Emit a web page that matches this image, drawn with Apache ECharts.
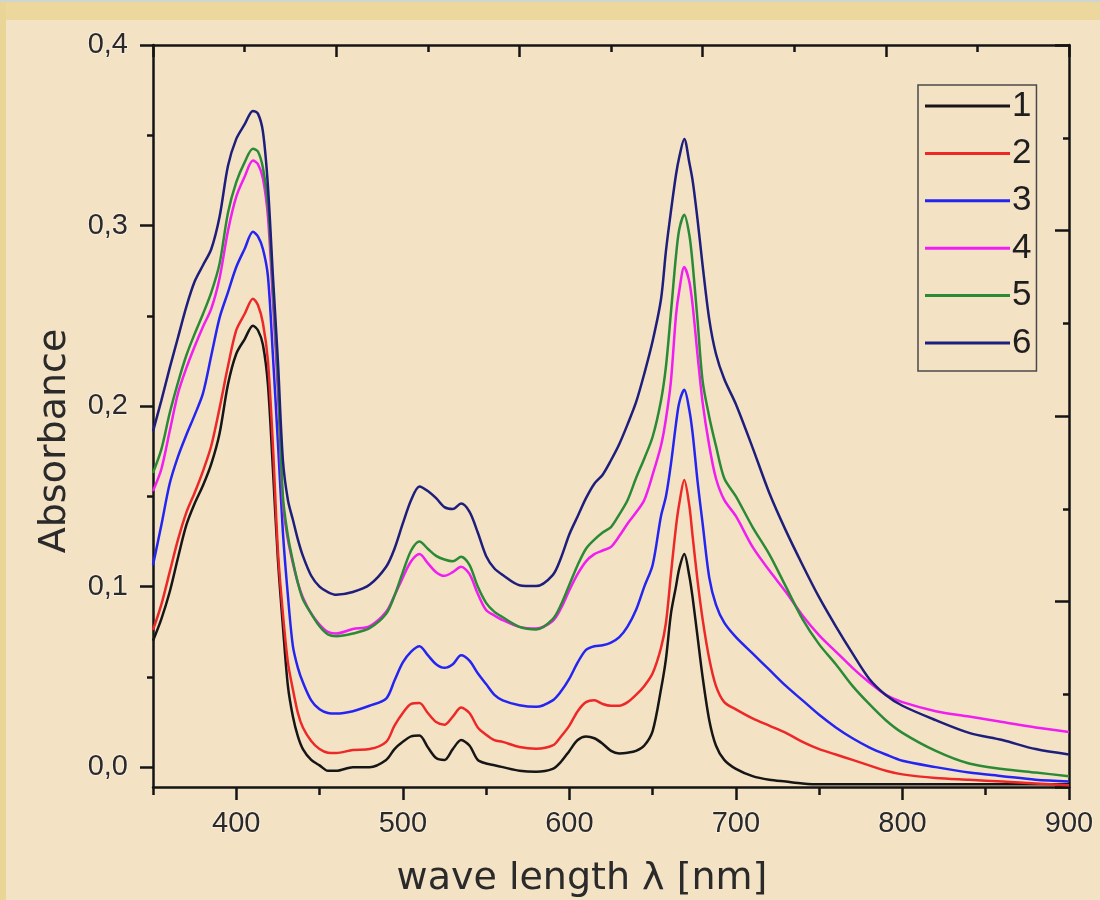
<!DOCTYPE html>
<html>
<head>
<meta charset="utf-8">
<title>Absorbance</title>
<style>
  * { margin: 0; padding: 0; }
  body { background: #f4e2c5; }
  #chart { width: 1100px; height: 900px; }
</style>
</head>
<body>
<div id="chart"></div>
<script src="https://cdn.jsdelivr.net/npm/echarts@6/dist/echarts.min.js"></script>
<script>
// wavelength samples (nm)
var wl = [350,355,360,365,370,375,380,385,390,395,
          400,405,410,413,416,419,422,425,428,431,
          434,437,440,445,450,455,460,470,480,490,
          495,500,505,510,515,520,525,530,535,540,
          545,550,555,560,570,580,590,595,600,605,
          610,615,620,625,630,635,640,645,650,655,
          658,661,664,666,669,672,674,677,680,684,
          688,693,700,710,720,730,740,750,760,770,
          780,790,800,820,840,860,880,900];

var s1 = [0.070,0.082,0.097,0.116,0.134,0.146,0.156,0.168,0.185,0.212,
          0.229,0.237,0.2445,0.242,0.234,0.212,0.165,0.115,0.078,0.045,
          0.028,0.017,0.010,0.004,0.001,-0.002,-0.002,0.000,0.000,0.004,
          0.010,0.014,0.017,0.0175,0.011,0.005,0.004,0.010,0.015,0.012,
          0.004,0.002,0.001,0.000,-0.002,-0.0026,-0.001,0.003,0.009,0.015,
          0.017,0.016,0.013,0.009,0.0076,0.008,0.009,0.012,0.020,0.043,
          0.060,0.085,0.100,0.110,0.118,0.106,0.094,0.072,0.050,0.026,
          0.012,0.004,-0.001,-0.005,-0.007,-0.008,-0.009,-0.0095,-0.0095,-0.0095,
          -0.0095,-0.0095,-0.0095,-0.0095,-0.0095,-0.0095,-0.0095,-0.0095];

var s2 = [0.076,0.090,0.108,0.126,0.141,0.152,0.164,0.178,0.199,0.222,
          0.242,0.251,0.2595,0.256,0.246,0.225,0.178,0.120,0.085,0.058,
          0.043,0.030,0.022,0.0145,0.010,0.008,0.0078,0.0095,0.010,0.014,
          0.023,0.030,0.035,0.0355,0.030,0.025,0.0235,0.028,0.033,0.030,
          0.022,0.018,0.015,0.014,0.0112,0.0102,0.012,0.017,0.023,0.031,
          0.036,0.037,0.035,0.034,0.034,0.036,0.040,0.045,0.052,0.066,
          0.080,0.107,0.133,0.146,0.159,0.145,0.128,0.103,0.082,0.060,
          0.045,0.036,0.032,0.027,0.023,0.019,0.014,0.010,0.007,0.004,
          0.001,-0.002,-0.004,-0.006,-0.007,-0.008,-0.009,-0.010];

var s3 = [0.112,0.134,0.157,0.172,0.184,0.195,0.207,0.228,0.249,0.263,
          0.277,0.287,0.2965,0.294,0.287,0.272,0.228,0.180,0.130,0.095,
          0.067,0.055,0.047,0.037,0.032,0.030,0.0297,0.031,0.034,0.038,
          0.048,0.058,0.064,0.067,0.062,0.057,0.055,0.057,0.062,0.059,
          0.052,0.046,0.040,0.037,0.0343,0.0334,0.037,0.042,0.049,0.058,
          0.065,0.067,0.0675,0.069,0.072,0.078,0.087,0.100,0.112,0.139,
          0.150,0.168,0.190,0.202,0.209,0.198,0.185,0.158,0.135,0.105,
          0.090,0.080,0.072,0.063,0.054,0.045,0.037,0.029,0.022,0.016,
          0.011,0.007,0.0035,0.000,-0.003,-0.005,-0.007,-0.008];

var s4 = [0.153,0.165,0.186,0.207,0.221,0.233,0.244,0.254,0.271,0.297,
          0.316,0.327,0.336,0.334,0.326,0.305,0.258,0.208,0.146,0.126,
          0.113,0.102,0.094,0.085,0.079,0.075,0.074,0.0765,0.078,0.086,
          0.095,0.105,0.114,0.118,0.113,0.108,0.106,0.108,0.111,0.107,
          0.096,0.087,0.084,0.0814,0.0777,0.0768,0.081,0.088,0.098,0.107,
          0.114,0.118,0.120,0.122,0.128,0.135,0.141,0.148,0.162,0.178,
          0.193,0.214,0.250,0.264,0.277,0.269,0.256,0.228,0.202,0.178,
          0.160,0.148,0.139,0.122,0.109,0.097,0.084,0.073,0.064,0.055,
          0.047,0.040,0.036,0.031,0.028,0.025,0.022,0.0195];

var s5 = [0.163,0.176,0.196,0.213,0.228,0.240,0.251,0.263,0.279,0.307,
          0.324,0.335,0.3425,0.341,0.332,0.312,0.265,0.215,0.150,0.128,
          0.114,0.102,0.093,0.085,0.078,0.0735,0.0725,0.074,0.077,0.085,
          0.095,0.108,0.120,0.125,0.121,0.117,0.115,0.114,0.1165,0.112,
          0.100,0.091,0.086,0.083,0.0777,0.0762,0.082,0.090,0.101,0.112,
          0.121,0.126,0.130,0.133,0.140,0.148,0.160,0.171,0.183,0.203,
          0.222,0.252,0.283,0.298,0.306,0.295,0.279,0.247,0.214,0.194,
          0.178,0.160,0.150,0.133,0.118,0.100,0.082,0.068,0.057,0.045,
          0.035,0.026,0.019,0.009,0.002,-0.001,-0.003,-0.005];

var s6 = [0.186,0.203,0.221,0.238,0.255,0.269,0.278,0.287,0.305,0.333,
          0.348,0.356,0.3635,0.362,0.352,0.322,0.272,0.225,0.170,0.148,
          0.137,0.126,0.117,0.106,0.100,0.097,0.0955,0.097,0.101,0.111,
          0.121,0.135,0.148,0.1555,0.153,0.149,0.144,0.143,0.146,0.1415,
          0.130,0.117,0.110,0.1064,0.1008,0.1003,0.1064,0.116,0.129,0.139,
          0.149,0.157,0.162,0.170,0.179,0.190,0.202,0.218,0.236,0.259,
          0.286,0.308,0.328,0.338,0.348,0.335,0.325,0.303,0.278,0.248,
          0.229,0.215,0.201,0.177,0.152,0.131,0.112,0.094,0.078,0.063,
          0.049,0.040,0.034,0.026,0.019,0.015,0.010,0.007];

var names = ['1', '2', '3', '4', '5', '6'];
var colors = ['#161616', '#ec2828', '#2525f2', '#f01ef0', '#2a8a36', '#1e1e7c'];

var xMajor = [400, 500, 600, 700, 800, 900];
var xMinor = [350, 450, 550, 650, 750, 850];
var yMajor = [0, 0.1, 0.2, 0.3, 0.4];
var yMinor = [0.05, 0.15, 0.25, 0.35];

var chart = echarts.init(document.getElementById('chart'));

var lineCol = '#141414';
var labelStyle = {
  fontFamily: 'Liberation Sans',
  fontSize: 29,
  color: '#2a2a2a',
  textBorderColor: 'rgba(255,250,240,0.55)',
  textBorderWidth: 2
};

function pairs(vals) {
  return wl.map(function (w, i) { return [w, vals[i]]; });
}

var series = [s1, s2, s3, s4, s5, s6].map(function (vals, i) {
  return {
    type: 'line',
    name: names[i],
    data: pairs(vals),
    xAxisIndex: 0,
    yAxisIndex: 0,
    symbol: 'none',
    smooth: 0.3,
    lineStyle: { color: colors[i], width: 2.5 },
    itemStyle: { color: colors[i] }
  };
});

var option = {
  animation: false,
  backgroundColor: '#f4e2c5',
  graphic: [
    { type: 'rect', silent: true, shape: { x: 0, y: 0, width: 1100, height: 20 }, style: { fill: '#ecd79c' } },
    { type: 'rect', silent: true, shape: { x: 0, y: 0, width: 6, height: 900 }, style: { fill: '#e9d596' } },
    { type: 'rect', silent: true, shape: { x: 0, y: 0, width: 1100, height: 2 }, style: { fill: '#cfd6d2' } }
  ],
  grid: { left: 153, right: 31, top: 45, bottom: 113, outerBoundsMode: 'none' },
  legend: {
    orient: 'vertical',
    left: 918,
    top: 85,
    padding: [3, 5, 10, 7],
    itemWidth: 85,
    itemHeight: 3,
    itemGap: 11.4,
    icon: 'rect',
    borderColor: '#4a4a4a',
    borderWidth: 1.5,
    textStyle: { fontFamily: 'Liberation Sans', fontSize: 35, lineHeight: 36, color: '#1e1e1e', padding: [0, 0, 0, -3] },
    data: names
  },
  xAxis: [
    {
      type: 'value', min: 350, max: 900, interval: 50, position: 'bottom',
      axisLine: { show: true, onZero: false, lineStyle: { color: lineCol, width: 2.5 } },
      axisTick: { show: true, customValues: xMajor, length: 13, lineStyle: { color: lineCol, width: 2.5 } },
      axisLabel: Object.assign({
        margin: 22,
        formatter: function (v) { return v % 100 === 0 ? String(v) : ''; }
      }, labelStyle),
      splitLine: { show: false },
      name: 'wave length λ [nm]',
      nameLocation: 'middle',
      nameGap: 71,
      nameTextStyle: { fontFamily: 'DejaVu Sans', fontSize: 38, lineHeight: 42, color: '#2a2a2a', padding: [0, 58, 0, 0] }
    },
    {
      type: 'value', min: 350, max: 900, position: 'bottom',
      axisLine: { show: false, onZero: false },
      axisTick: { show: true, customValues: xMinor, length: 8, lineStyle: { color: lineCol, width: 2.5 } },
      axisLabel: { show: false },
      splitLine: { show: false }
    },
    {
      type: 'value', min: 0, max: 5, interval: 1, position: 'top',
      axisLine: { show: true, onZero: false, lineStyle: { color: lineCol, width: 2.5 } },
      axisTick: { show: true, inside: true, length: 12, lineStyle: { color: lineCol, width: 2.5 } },
      minorTick: { show: true, splitNumber: 2, length: 7, lineStyle: { color: lineCol, width: 2.5 } },
      axisLabel: { show: false },
      splitLine: { show: false }
    }
  ],
  yAxis: [
    {
      type: 'value', min: -0.011, max: 0.4, position: 'left',
      axisLine: { show: true, onZero: false, lineStyle: { color: lineCol, width: 2.5 } },
      axisTick: { show: true, customValues: yMajor, length: 13, lineStyle: { color: lineCol, width: 2.5 } },
      axisLabel: Object.assign({
        customValues: yMajor,
        margin: 25,
        formatter: function (v) { return v.toFixed(1).replace('.', ','); }
      }, labelStyle),
      splitLine: { show: false },
      name: 'Absorbance',
      nameLocation: 'middle',
      nameGap: 63,
      nameRotate: 90,
      nameTextStyle: { fontFamily: 'DejaVu Sans', fontSize: 38, lineHeight: 42, color: '#2a2a2a', padding: [0, 50, 0, 0] }
    },
    {
      type: 'value', min: -0.011, max: 0.4, position: 'left',
      axisLine: { show: false, onZero: false },
      axisTick: { show: true, customValues: yMinor, length: 6, lineStyle: { color: lineCol, width: 2.5 } },
      axisLabel: { show: false },
      splitLine: { show: false }
    },
    {
      type: 'value', min: 0, max: 4, interval: 1, position: 'right',
      axisLine: { show: true, onZero: false, lineStyle: { color: lineCol, width: 2.5 } },
      axisTick: { show: true, inside: true, length: 14, lineStyle: { color: lineCol, width: 2.5 } },
      minorTick: { show: true, splitNumber: 2, length: 6, lineStyle: { color: lineCol, width: 2.5 } },
      axisLabel: { show: false },
      splitLine: { show: false }
    }
  ],
  series: series
};

chart.setOption(option);
</script>
</body>
</html>
